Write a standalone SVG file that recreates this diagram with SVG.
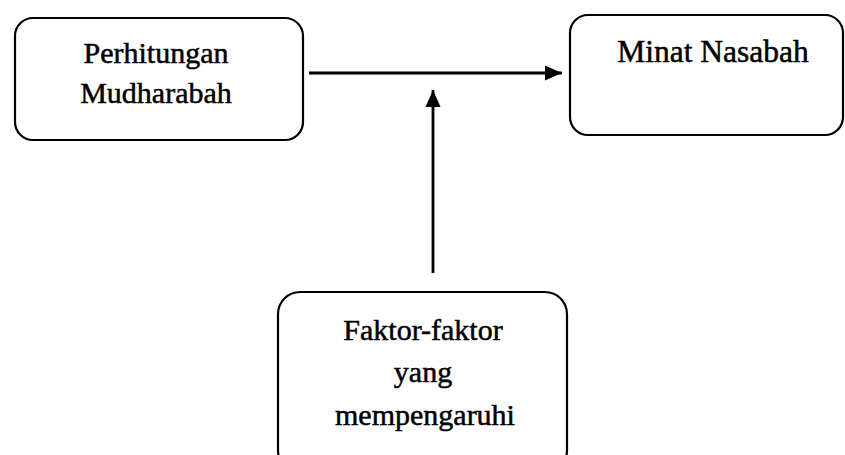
<svg xmlns="http://www.w3.org/2000/svg" width="845" height="455" viewBox="0 0 845 455">
<style>
.box{fill:#fff;stroke:#000;stroke-width:2.2}
.lbl{font-family:"Liberation Serif","Times New Roman",serif;font-size:30px;fill:#000;stroke:#000;stroke-width:0.5;text-anchor:middle}
.con{stroke:#000;stroke-width:2.8;fill:none}
</style>
<defs>
<marker id="ah" markerUnits="userSpaceOnUse" markerWidth="20" markerHeight="20" refX="17" refY="8.5" orient="auto">
<path d="M0,1 L17,8.5 L0,16 Z" fill="#000"/>
</marker>
</defs>
<rect width="845" height="455" fill="#fff"/>
<g id="connectors">
<line class="con" x1="309" y1="73" x2="562" y2="73" marker-end="url(#ah)"/>
<line class="con" x1="433" y1="273" x2="433" y2="90" marker-end="url(#ah)"/>
</g>
<g id="node-perhitungan">
<rect class="box" x="15" y="18" width="288" height="122" rx="18"/>
<text class="lbl" x="156" y="63">Perhitungan</text>
<text class="lbl" x="156" y="103">Mudharabah</text>
</g>
<g id="node-minat">
<rect class="box" x="570" y="15" width="273" height="120" rx="18"/>
<text class="lbl" x="713" y="62" style="font-size:31.5px">Minat Nasabah</text>
</g>
<g id="node-faktor">
<rect class="box" x="278" y="292" width="289" height="180" rx="22"/>
<text class="lbl" x="423" y="340">Faktor-faktor</text>
<text class="lbl" x="423" y="382">yang</text>
<text class="lbl" x="425" y="425">mempengaruhi</text>
</g>
</svg>
